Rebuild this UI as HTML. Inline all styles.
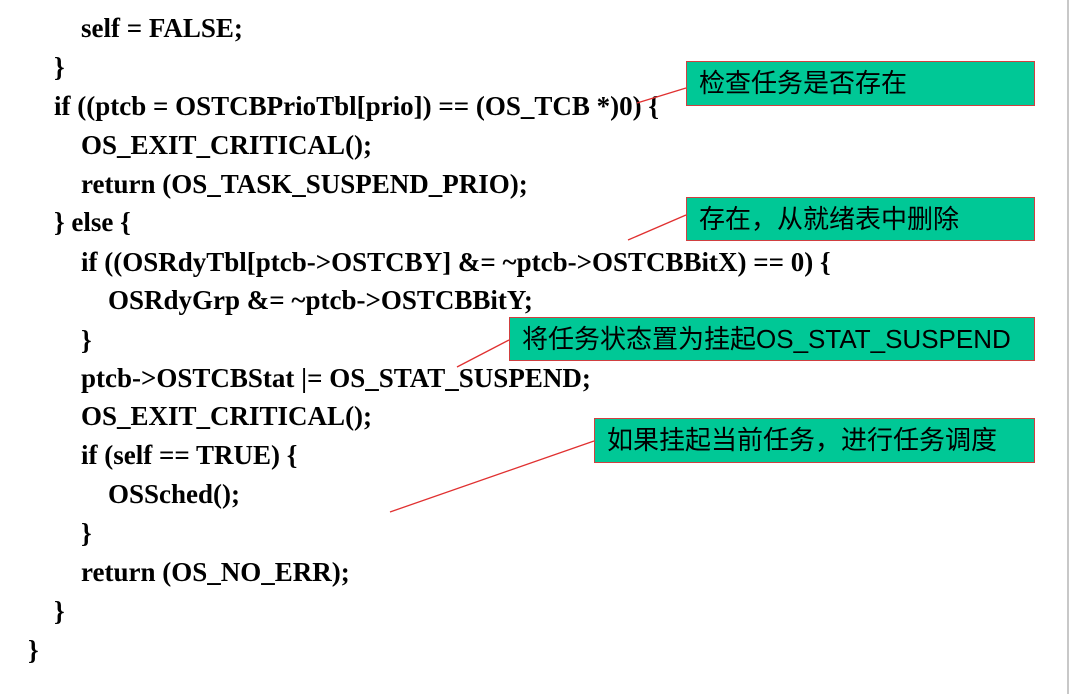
<!DOCTYPE html>
<html><head><meta charset="utf-8"><style>
body{margin:0;width:1073px;height:694px;background:#fff;position:relative;overflow:hidden}
.l{position:absolute;font:bold 27px "Liberation Serif",serif;color:#000;white-space:pre;line-height:30px}
.b{position:absolute;background:#00c896;border:1px solid #d04040;box-sizing:border-box;font:26px "Liberation Sans","Noto Sans CJK SC",sans-serif;color:#000;padding-left:12px;line-height:42px;white-space:nowrap}
</style></head><body>
<div style="position:absolute;left:1067px;top:0;width:2px;height:694px;background:#c8c8c8"></div>
<div class="l" style="left:81px;top:13px">self = FALSE;</div>
<div class="l" style="left:54px;top:52px">}</div>
<div class="l" style="left:54px;top:91px">if ((ptcb = OSTCBPrioTbl[prio]) == (OS_TCB *)0) {</div>
<div class="l" style="left:81px;top:130px">OS_EXIT_CRITICAL();</div>
<div class="l" style="left:81px;top:169px">return (OS_TASK_SUSPEND_PRIO);</div>
<div class="l" style="left:54px;top:207px">} else {</div>
<div class="l" style="left:81px;top:247px">if ((OSRdyTbl[ptcb-&gt;OSTCBY] &amp;= ~ptcb-&gt;OSTCBBitX) == 0) {</div>
<div class="l" style="left:108px;top:285px">OSRdyGrp &amp;= ~ptcb-&gt;OSTCBBitY;</div>
<div class="l" style="left:81px;top:325px">}</div>
<div class="l" style="left:81px;top:363px">ptcb-&gt;OSTCBStat |= OS_STAT_SUSPEND;</div>
<div class="l" style="left:81px;top:401px">OS_EXIT_CRITICAL();</div>
<div class="l" style="left:81px;top:440px">if (self == TRUE) {</div>
<div class="l" style="left:108px;top:479px">OSSched();</div>
<div class="l" style="left:81px;top:518px">}</div>
<div class="l" style="left:81px;top:557px">return (OS_NO_ERR);</div>
<div class="l" style="left:54px;top:596px">}</div>
<div class="l" style="left:28px;top:635px">}</div>
<svg width="1073" height="694" style="position:absolute;left:0;top:0">
<g stroke="#e03030" stroke-width="1.3">
<line x1="686" y1="88" x2="637" y2="103"/>
<line x1="686" y1="215" x2="628" y2="240"/>
<line x1="509" y1="340" x2="457" y2="367"/>
<line x1="594" y1="441" x2="390" y2="512"/>
</g></svg>
<div class="b" style="left:686px;top:61px;width:349px;height:45px">检查任务是否存在</div>
<div class="b" style="left:686px;top:197px;width:349px;height:44px">存在，从就绪表中删除</div>
<div class="b" style="left:509px;top:317px;width:526px;height:44px">将任务状态置为挂起OS_STAT_SUSPEND</div>
<div class="b" style="left:594px;top:418px;width:441px;height:45px">如果挂起当前任务，进行任务调度</div>
</body></html>
